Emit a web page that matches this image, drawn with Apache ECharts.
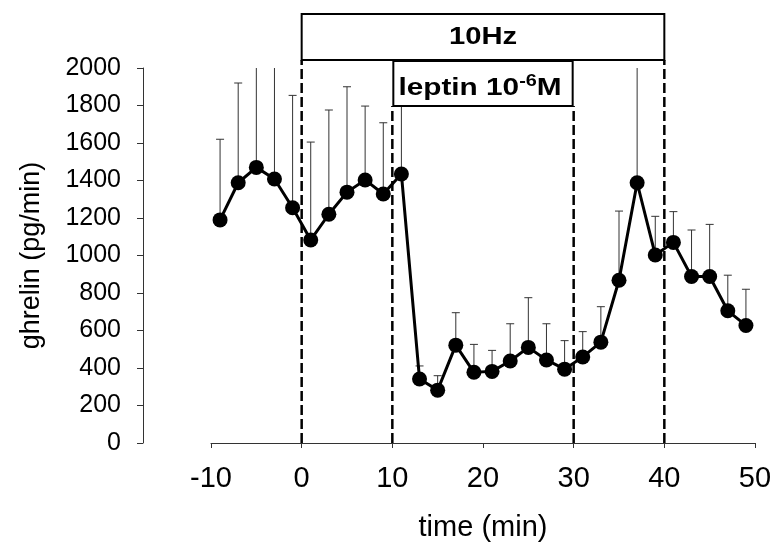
<!DOCTYPE html>
<html><head><meta charset="utf-8">
<script src="https://cdn.jsdelivr.net/npm/echarts@6/dist/echarts.min.js"></script>
<style>html,body{margin:0;padding:0;background:#fff}#c{width:776px;height:542px}</style>
</head><body><div id="c"></div>
<script>
// ---- data ----
const times = [-9,-7,-5,-3,-1,1,3,5,7,9,11,13,15,17,19,21,23,25,27,29,31,33,35,37,39,41,43,45,47,49];
const ghrelinMean = [1190,1388,1470,1408,1255,1083,1220,1338,1403,1328,1435,341,282,522,377,382,437,510,443,394,459,538,868,1388,1003,1070,888,888,705,627];
const ghrelinUpper = [1620,1920,2100,2100,1854,1605,1776,1900,1797,1708,1900,411,359,695,526,494,636,775,636,546,594,727,1237,2200,1209,1234,1136,1166,895,820];
const xTickRange = [-10, 50, 10];
const yTickRange = [0, 2000, 200];
const stimLabel = '10Hz';
const stimRange = [0, 40];
const leptinRange = [10, 30];

const FONT = 'Arial, "Liberation Sans", sans-serif';
const chart = echarts.init(document.getElementById('c'));
const yMax = yTickRange[1];

chart.setOption({
  animation: false,
  backgroundColor: '#fff',
  grid: {left: 211, right: 21, top: 68, bottom: 99, containLabel: false, outerBoundsMode: 'none'},
  xAxis: {
    type: 'value', min: xTickRange[0], max: xTickRange[1], interval: xTickRange[2],
    name: 'time (min)', nameLocation: 'middle', nameGap: 70,
    nameTextStyle: {fontFamily: FONT, fontSize: 29, color: '#000'},
    axisLine: {onZero: false, lineStyle: {color: '#333', width: 1}},
    axisTick: {inside: false, length: 5, lineStyle: {color: '#333', width: 1}},
    axisLabel: {fontFamily: FONT, fontSize: 29, color: '#000', margin: 21},
    splitLine: {show: false}
  },
  yAxis: {
    type: 'value', min: yTickRange[0], max: yTickRange[1], interval: yTickRange[2],
    offset: 68,
    name: 'ghrelin (pg/min)', nameLocation: 'middle', nameGap: 98,
    nameTextStyle: {fontFamily: FONT, fontSize: 27, color: '#000'},
    axisLine: {show: true, onZero: false, lineStyle: {color: '#333', width: 1}},
    axisTick: {show: true, inside: false, length: 6, lineStyle: {color: '#333', width: 1}},
    axisLabel: {fontFamily: FONT, fontSize: 25, color: '#000', margin: 22, formatter: v => String(v)},
    splitLine: {show: false}
  },
  series: [
    {
      type: 'custom',
      z: 1,
      encode: {x: 0, y: [1, 2]},
      data: times.map((t, i) => [t, ghrelinMean[i], ghrelinUpper[i]]),
      renderItem: function (params, api) {
        const x = api.value(0), m = api.value(1), uRaw = api.value(2);
        const u = Math.min(uRaw, yMax);
        const p0 = api.coord([x, m]), p1 = api.coord([x, u]);
        const children = [
          {type: 'line', shape: {x1: p0[0], y1: p0[1], x2: p1[0], y2: p1[1]}, style: {stroke: '#333', lineWidth: 1}}
        ];
        if (uRaw <= yMax) {
          children.push({type: 'line', shape: {x1: p1[0] - 4, y1: p1[1], x2: p1[0] + 4, y2: p1[1]}, style: {stroke: '#333', lineWidth: 1}});
        }
        return {type: 'group', children: children};
      }
    },
    {
      type: 'line',
      z: 3,
      data: times.map((t, i) => [t, ghrelinMean[i]]),
      symbol: 'circle', symbolSize: 15,
      lineStyle: {color: '#000', width: 3},
      itemStyle: {color: '#000'}
    }
  ]
});

const px = v => chart.convertToPixel({xAxisIndex: 0}, v);
const py = v => chart.convertToPixel({yAxisIndex: 0}, v);
const x0 = px(stimRange[0]), x40 = px(stimRange[1]);
const x10 = px(leptinRange[0]), x30 = px(leptinRange[1]);
const yBase = py(0);
const box1Top = 14, box1Bot = 60, box2Bot = 106;
const dash = (x, yTop) => ({type: 'line', z: 0, shape: {x1: x, y1: yBase, x2: x, y2: yTop},
  style: {stroke: '#000', lineWidth: 2.5, lineDash: [10, 4]}});

chart.setOption({
  graphic: [
    dash(x0, box1Bot), dash(x40, box1Bot), dash(x10, box2Bot), dash(x30, box2Bot),
    {type: 'rect', z: 100, shape: {x: x0, y: box1Top, width: x40 - x0, height: box1Bot - box1Top},
      style: {fill: '#fff', stroke: '#000', lineWidth: 2}},
    {type: 'rect', z: 100, shape: {x: x10 + 1, y: box1Bot + 1, width: x30 - x10 - 2, height: box2Bot - box1Bot - 1},
      style: {fill: '#fff', stroke: '#000', lineWidth: 2}},
    {type: 'text', z: 101, x: (x0 + x40) / 2, y: 38, scaleX: 1.27,
      style: {text: stimLabel, font: 'bold 23px ' + FONT, fill: '#000', align: 'center', verticalAlign: 'middle'}},
    {type: 'text', z: 101, x: (x10 + x30) / 2 - 3, y: 88, scaleX: 1.24,
      style: {text: '{a|leptin 10}{s|-6}{a|M}', fill: '#000', align: 'center', verticalAlign: 'middle',
        rich: {a: {font: 'bold 24px ' + FONT, fill: '#000'}, s: {font: 'bold 16px ' + FONT, fill: '#000', padding: [0, 0, 12, 0]}}}}
  ]
});
</script></body></html>
